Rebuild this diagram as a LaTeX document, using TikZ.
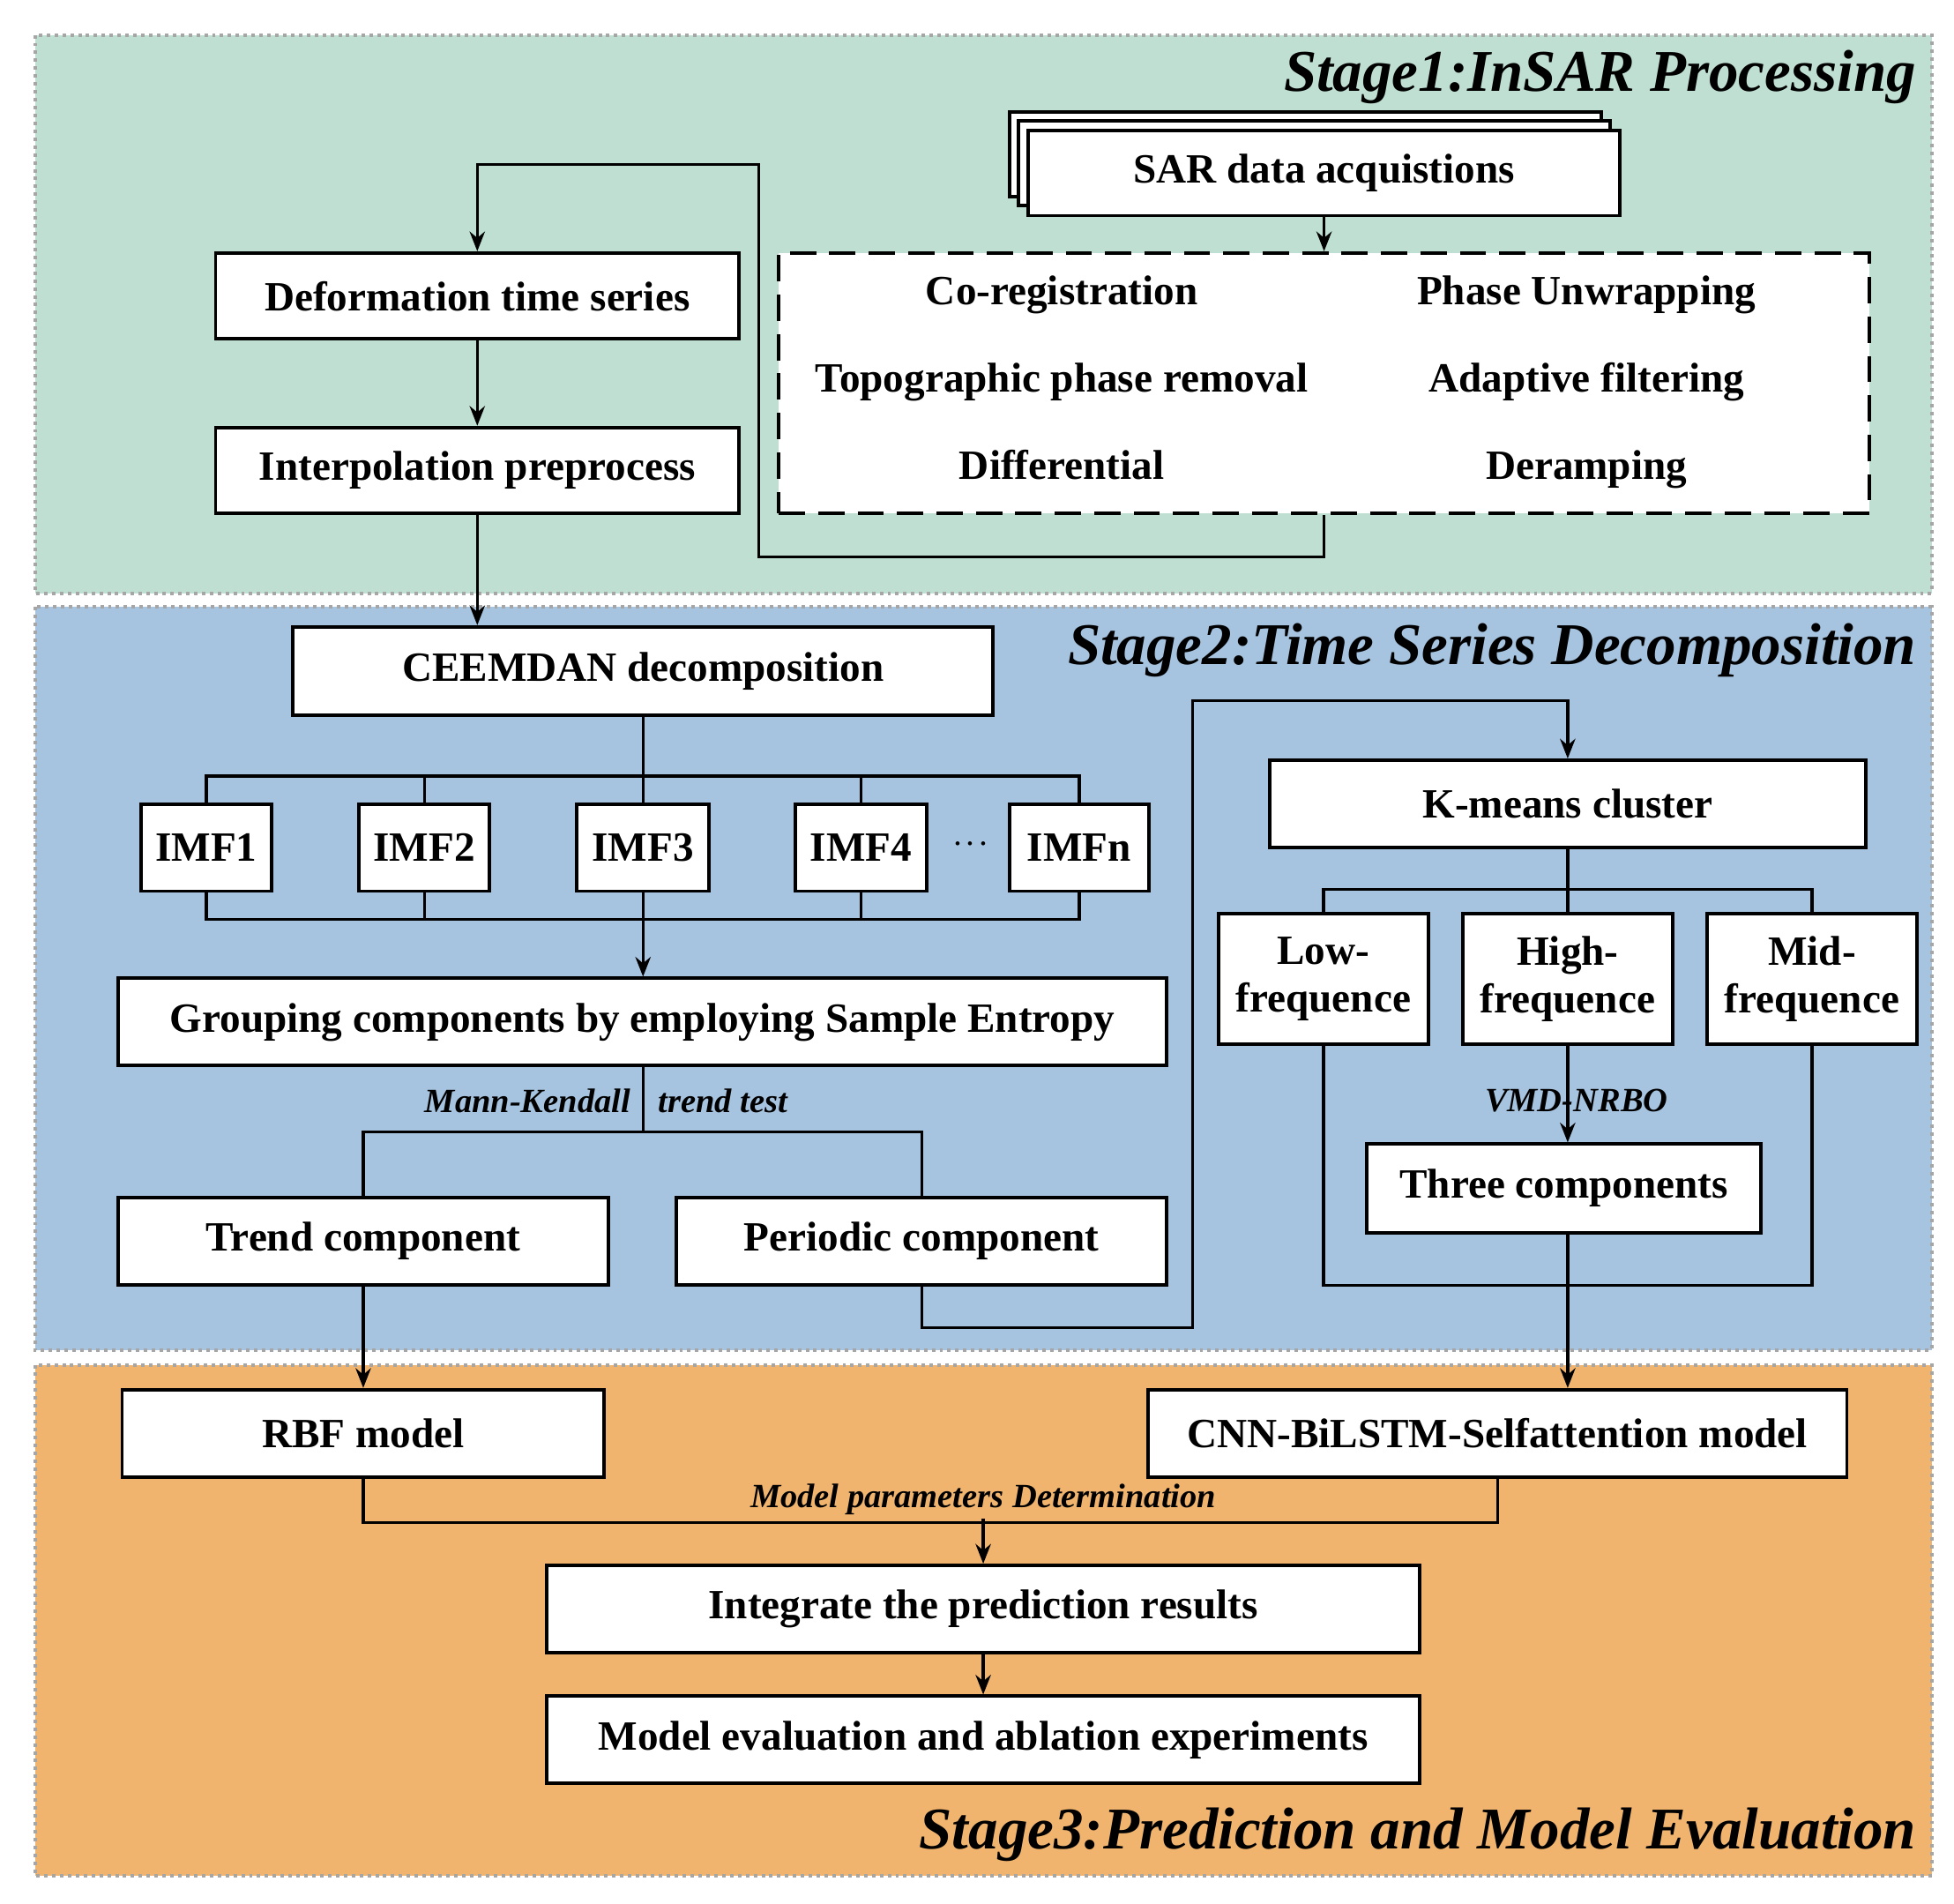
\documentclass[tikz,border=0pt]{standalone}
\usepackage{fontspec}
\setmainfont{Liberation Serif}
\usetikzlibrary{arrows.meta}
\newcommand\bx[6]{\node[box,minimum width={(#4-#2)*0.02cm},minimum height={(#5-#3)*0.02cm}] (#1) at ({(#2+#4)/2},{(#3+#5)/2}) {#6};}
\begin{document}
\begin{tikzpicture}[x=0.02cm,y=-0.02cm,
  box/.style={draw,line width=1.6pt,fill=white,inner sep=0pt,align=center,font=\fontsize{19}{22}\selectfont\bfseries},
  lbl/.style={font=\fontsize{19}{22}\selectfont\bfseries,inner sep=0pt},
  conn/.style={line width=1.3pt},
  arr/.style={line width=1.3pt,-{Stealth[length=9pt,width=7pt]}},
  panel/.style={draw=gray!70,dotted,line width=1.6pt},
  ttl/.style={font=\fontsize{27}{30}\selectfont\bfseries\itshape,anchor=east,inner sep=0pt},
  it/.style={font=\fontsize{15.5}{18}\selectfont\bfseries\itshape,inner sep=1pt}]
\useasboundingbox (0,0) rectangle (1568,1527);
\fill[white] (0,0) rectangle (1568,1527);
\path[panel,fill={rgb,255:red,191;green,223;blue,210}] (28,28) rectangle (1550,476);
\path[panel,fill={rgb,255:red,166;green,196;blue,224}] (28,487) rectangle (1550,1083);
\path[panel,fill={rgb,255:red,240;green,180;blue,110}] (28,1095) rectangle (1550,1505);
\node[ttl] (t1) at (1538,62) {Stage1:InSAR Processing};
\node[ttl] (t2) at (1538,522) {Stage2:Time Series Decomposition};
\node[ttl] (t3) at (1538,1472) {Stage3:Prediction and Model Evaluation};
% Stage 1
\draw[line width=1.6pt,fill=white] (810,90) rectangle (1285,158);
\draw[line width=1.6pt,fill=white] (817,97) rectangle (1292,165);
\bx{sar}{825}{105}{1300}{173}{SAR data acquistions}
\bx{def}{173}{203}{593}{272}{Deformation time series}
\bx{interp}{173}{343}{593}{412}{Interpolation preprocess}
\node[draw,dashed,dash pattern=on 12pt off 6pt,line width=1.6pt,fill=white,minimum width={875*0.02cm},minimum height={209*0.02cm},inner sep=0pt] (dash) at (1062.5,307.5) {};
\node[lbl] (c1) at (852,237) {\strut Co-registration};
\node[lbl] (c2) at (1273,237) {\strut Phase Unwrapping};
\node[lbl] (c3) at (852,307) {\strut Topographic phase removal};
\node[lbl] (c4) at (1273,307) {\strut Adaptive filtering};
\node[lbl] (c5) at (852,377) {\strut Differential};
\node[lbl] (c6) at (1273,377) {\strut Deramping};
\draw[arr] (sar.south -| dash.north) -- (dash.north);
\coordinate (k1) at (609,447);
\coordinate (k2) at (383,132);
\draw[arr] (dash.south) |- (k1) |- (k2) -- (def.north);
\draw[arr] (def) -- (interp);
% Stage 2
\bx{ceem}{235}{503}{797}{574}{CEEMDAN decomposition}
\draw[arr] (interp.south) -- (interp.south |- ceem.north);
\bx{i1}{113}{645}{218}{715}{IMF1}
\bx{i2}{288}{645}{393}{715}{IMF2}
\bx{i3}{463}{645}{569}{715}{IMF3}
\bx{i4}{638}{645}{744}{715}{IMF4}
\bx{in}{810}{645}{922}{715}{IMFn}
\node[lbl] (dots) at (779,678) {$\cdot\!\cdot\!\cdot$};
\draw[conn] (i1.north) -- ++(0,-21) -| (in.north);
\draw[conn] (i1.south) -- ++(0,21) -| (in.south);
\foreach \n in {i2,i3,i4}{\draw[conn] (\n.north) -- ++(0,-21); \draw[conn] (\n.south) -- ++(0,21);}
\draw[conn] (ceem.south) -- ++(0,50);
\bx{grp}{95}{785}{936}{855}{Grouping components by employing Sample Entropy}
\draw[arr] (i3.south) ++(0,21) -- (grp.north -| i3.south);
\bx{trend}{95}{961}{488}{1031}{Trend component}
\bx{per}{543}{961}{936}{1031}{Periodic component}
\coordinate (g1) at (516,908);
\draw[conn] (grp.south -| g1) -- (g1);
\draw[conn] (trend.north) |- (g1) -| (per.north);
\node[it,anchor=east] (mk) at (508,883) {Mann-Kendall};
\node[it,anchor=west] (tt) at (526,883) {trend test};
\bx{km}{1019}{610}{1497}{680}{K-means cluster}
\coordinate (p1) at (957,1065);
\coordinate (p2) at (957,562);
\draw[arr] (per.south) |- (p1) -- (p2) -| (km.north -| 1258,0);
\bx{low}{978}{733}{1146}{838}{Low-\\frequence}
\bx{high}{1174}{733}{1342}{838}{High-\\frequence}
\bx{mid}{1370}{733}{1538}{838}{Mid-\\frequence}
\draw[conn] (high.north) -- (high.north |- km.south);
\draw[conn] (low.north) -- ++(0,-18) -| (mid.north);
\bx{three}{1097}{918}{1413}{989}{Three components}
\draw[arr] (high.south) -- (high.south |- three.north);
\node[it] (vmd) at (1265,883) {VMD-NRBO};
\draw[conn] (low.south) -- ++(0,192) -| (mid.south);
% Stage 3
\bx{rbf}{98}{1115}{485}{1185}{RBF model}
\bx{cnn}{921}{1115}{1482}{1185}{CNN-BiLSTM-Selfattention model}
\draw[arr] (trend.south) -- (trend.south |- rbf.north);
\draw[arr] (high.south |- three.south) -- (high.south |- cnn.north);
\bx{integ}{439}{1256}{1139}{1326}{Integrate the prediction results}
\bx{eval}{439}{1361}{1139}{1431}{Model evaluation and ablation experiments}
\draw[conn] (rbf.south) -- ++(0,35) -| (cnn.south -| 1202,0);
\node[it] (mpd) at (789,1203) {Model parameters Determination};
\draw[arr] (integ.north) ++(0,-36) -- (integ.north);
\draw[arr] (integ) -- (eval);
\end{tikzpicture}
\end{document}
